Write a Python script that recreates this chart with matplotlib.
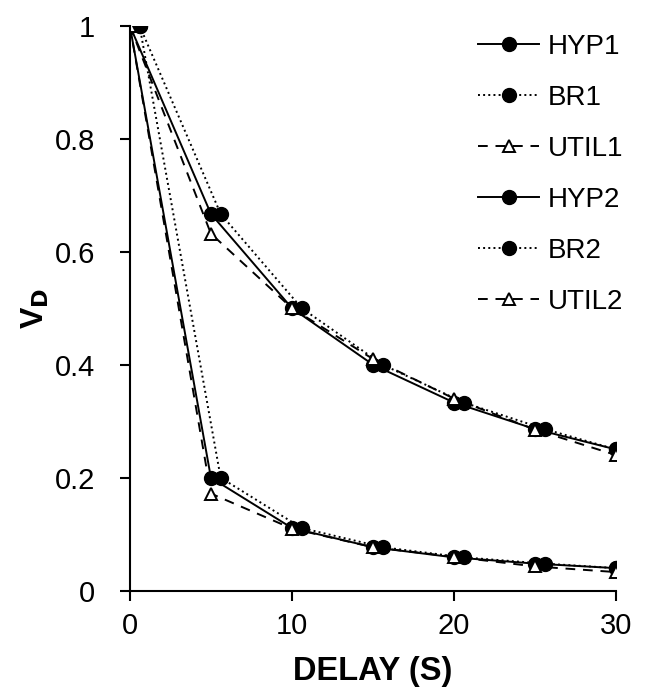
import matplotlib
matplotlib.use("Agg")
import matplotlib.pyplot as plt

plt.rcParams['font.family'] = ['Liberation Sans', 'DejaVu Sans']

# delays (s)
x = [0, 5, 10, 15, 20, 25, 30]
x_br = [0.6, 5.6, 10.6, 15.6, 20.6, 25.6, 30.0]

hyp1 = [1.0, 0.667, 0.5, 0.4, 0.333, 0.286, 0.25]
br1 = [1.0, 0.667, 0.5, 0.4, 0.333, 0.286, 0.25]
util1 = [1.0, 0.632, 0.50, 0.41, 0.34, 0.285, 0.24]
hyp2 = [1.0, 0.2, 0.111, 0.077, 0.059, 0.048, 0.04]
br2 = [1.0, 0.2, 0.111, 0.077, 0.059, 0.048, 0.04]
util2 = [1.0, 0.172, 0.11, 0.077, 0.06, 0.043, 0.033]

fig = plt.figure(figsize=(6.46, 6.95), dpi=100)
ax = fig.add_axes([0.201, 0.150, 0.753, 0.813])

dot = dict(marker='o', color='black', markersize=10, linewidth=1.4)
tri = dict(marker='^', color='black', markerfacecolor='white', markeredgecolor='black',
           markersize=9, markeredgewidth=1.4, linewidth=1.4)

ax.plot(x, hyp1, linestyle='-', label='HYP1', **dot)
ax.plot(x_br, br1, linestyle=':', label='BR1', **dot)
ax.plot(x, util1, linestyle=(0, (5, 4)), label='UTIL1', **tri)
ax.plot(x, hyp2, linestyle='-', label='HYP2', **dot)
ax.plot(x_br, br2, linestyle=':', label='BR2', **dot)
ax.plot(x, util2, linestyle=(0, (5, 4)), label='UTIL2', **tri)

ax.set_xlim(0, 30)
ax.set_ylim(0, 1)
ax.set_xticks([0, 10, 20, 30])
ax.set_yticks([0, 0.2, 0.4, 0.6, 0.8, 1])
ax.set_yticklabels(['0', '0.2', '0.4', '0.6', '0.8', '1'])
ax.tick_params(labelsize=21, direction='out', length=7, width=1.5)
ax.tick_params(axis='y', pad=18)
ax.tick_params(axis='x', pad=8)
for s in ['top', 'right']:
    ax.spines[s].set_visible(False)
for s in ['left', 'bottom']:
    ax.spines[s].set_linewidth(1.5)

ax.set_xlabel('DELAY (S)', fontsize=23.5, fontweight='bold', labelpad=12)
ax.set_ylabel(r'V$_\mathbf{D}$', fontsize=23, fontweight='bold', labelpad=3)

ax.legend(loc='upper right', bbox_to_anchor=(1.065, 1.03), frameon=False, fontsize=20,
          handlelength=2.2, labelspacing=0.9, handletextpad=0.3)

fig.savefig('out.png', dpi=100)
